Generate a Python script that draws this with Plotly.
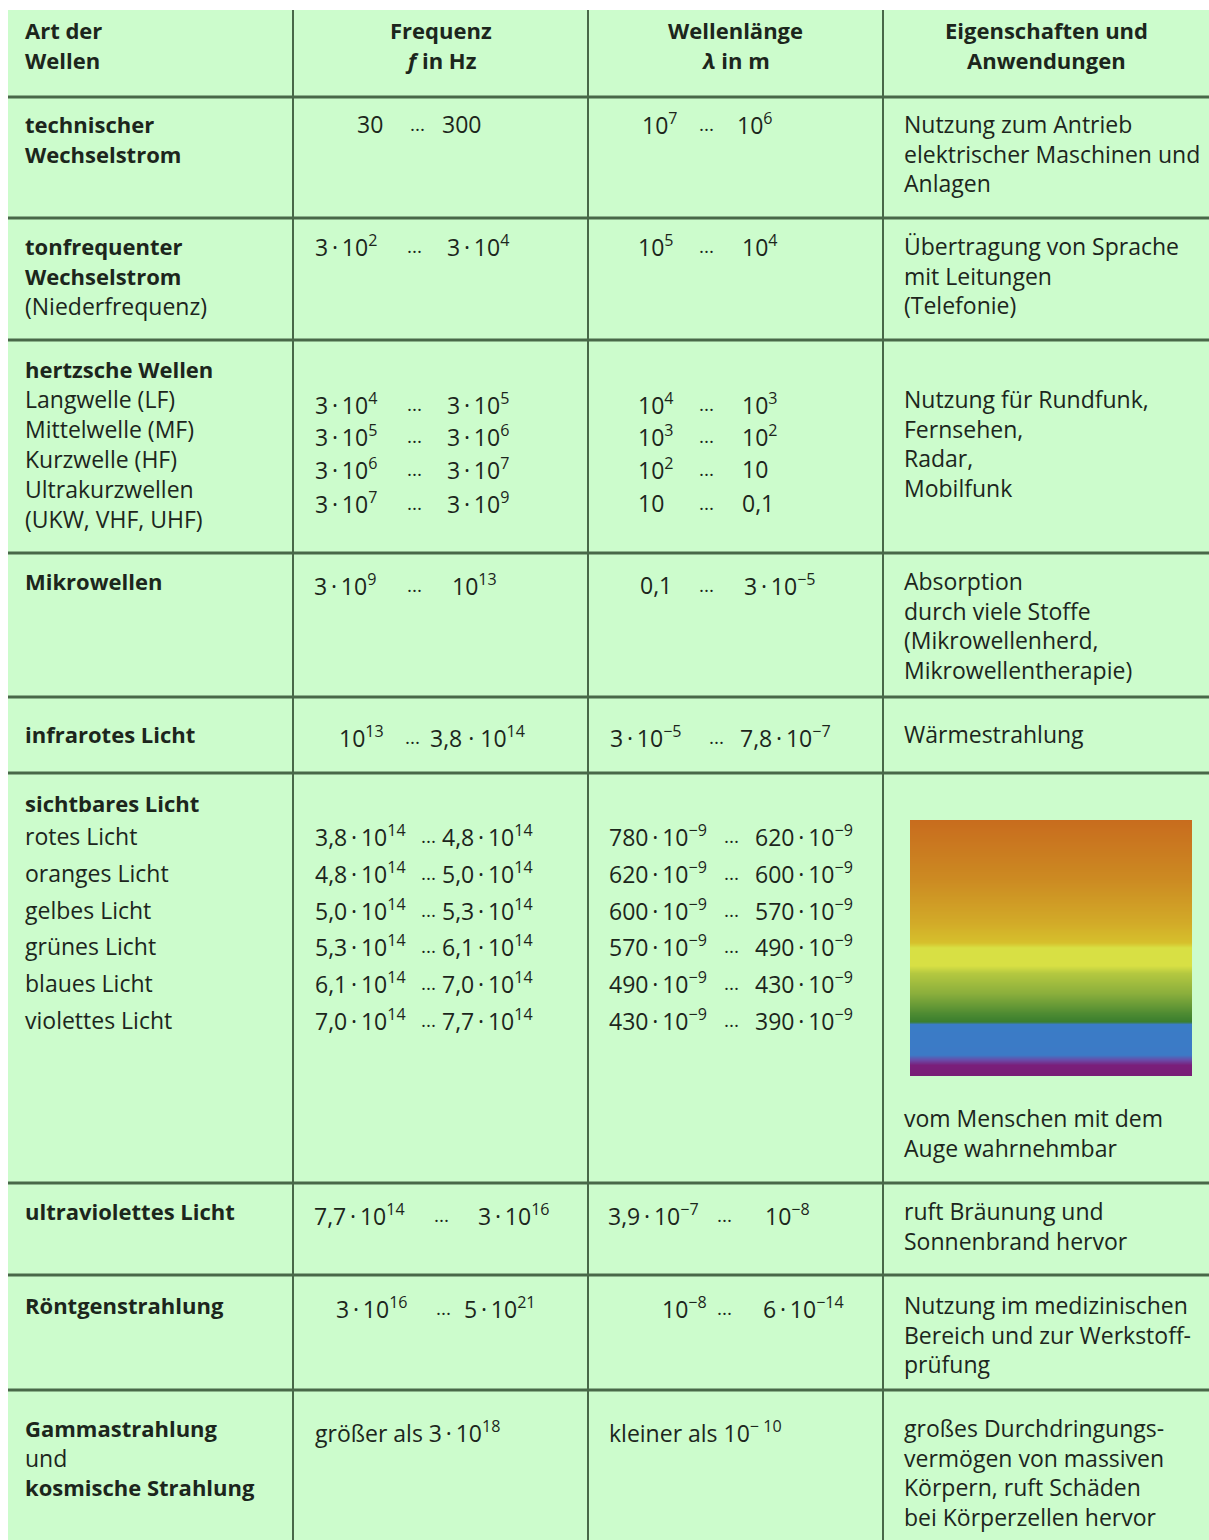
import plotly.graph_objects as go

# ---------------- data ----------------
header_lines = [
    ["Art der", "Wellen"],
    ["Frequenz", "<i>f</i> in Hz"],
    ["Wellenlänge", "<i>λ</i> in m"],
    ["Eigenschaften und", "Anwendungen"],
]

wave_types = [
    ["<b>technischer</b>", "<b>Wechselstrom</b>"],
    ["<b>tonfrequenter</b>", "<b>Wechselstrom</b>", "(Niederfrequenz)"],
    ["<b>hertzsche Wellen</b>", "Langwelle (LF)", "Mittelwelle (MF)", "Kurzwelle (HF)",
     "Ultrakurzwellen", "(UKW, VHF, UHF)"],
    ["<b>Mikrowellen</b>"],
    ["<b>infrarotes Licht</b>"],
    ["<b>sichtbares Licht</b>", "rotes Licht", "oranges Licht", "gelbes Licht",
     "grünes Licht", "blaues Licht", "violettes Licht"],
    ["<b>ultraviolettes Licht</b>"],
    ["<b>Röntgenstrahlung</b>"],
    ["<b>Gammastrahlung</b>", "und", "<b>kosmische Strahlung</b>"],
]

M = "\u2009·\u2009"
frequencies = [
    [("30", "300")],
    [("3" + M + "10<sup>2</sup>", "3" + M + "10<sup>4</sup>")],
    [("3" + M + "10<sup>4</sup>", "3" + M + "10<sup>5</sup>"),
     ("3" + M + "10<sup>5</sup>", "3" + M + "10<sup>6</sup>"),
     ("3" + M + "10<sup>6</sup>", "3" + M + "10<sup>7</sup>"),
     ("3" + M + "10<sup>7</sup>", "3" + M + "10<sup>9</sup>")],
    [("3" + M + "10<sup>9</sup>", "10<sup>13</sup>")],
    [("10<sup>13</sup>", "3,8 · 10<sup>14</sup>")],
    [("3,8" + M + "10<sup>14</sup>", "4,8" + M + "10<sup>14</sup>"),
     ("4,8" + M + "10<sup>14</sup>", "5,0" + M + "10<sup>14</sup>"),
     ("5,0" + M + "10<sup>14</sup>", "5,3" + M + "10<sup>14</sup>"),
     ("5,3" + M + "10<sup>14</sup>", "6,1" + M + "10<sup>14</sup>"),
     ("6,1" + M + "10<sup>14</sup>", "7,0" + M + "10<sup>14</sup>"),
     ("7,0" + M + "10<sup>14</sup>", "7,7" + M + "10<sup>14</sup>")],
    [("7,7" + M + "10<sup>14</sup>", "3" + M + "10<sup>16</sup>")],
    [("3" + M + "10<sup>16</sup>", "5" + M + "10<sup>21</sup>")],
    [("größer als 3" + M + "10<sup>18</sup>", None)],
]

wavelengths = [
    [("10<sup>7</sup>", "10<sup>6</sup>")],
    [("10<sup>5</sup>", "10<sup>4</sup>")],
    [("10<sup>4</sup>", "10<sup>3</sup>"), ("10<sup>3</sup>", "10<sup>2</sup>"),
     ("10<sup>2</sup>", "10"), ("10", "0,1")],
    [("0,1", "3" + M + "10<sup>−5</sup>")],
    [("3" + M + "10<sup>−5</sup>", "7,8" + M + "10<sup>−7</sup>")],
    [("780" + M + "10<sup>−9</sup>", "620" + M + "10<sup>−9</sup>"),
     ("620" + M + "10<sup>−9</sup>", "600" + M + "10<sup>−9</sup>"),
     ("600" + M + "10<sup>−9</sup>", "570" + M + "10<sup>−9</sup>"),
     ("570" + M + "10<sup>−9</sup>", "490" + M + "10<sup>−9</sup>"),
     ("490" + M + "10<sup>−9</sup>", "430" + M + "10<sup>−9</sup>"),
     ("430" + M + "10<sup>−9</sup>", "390" + M + "10<sup>−9</sup>")],
    [("3,9" + M + "10<sup>−7</sup>", "10<sup>−8</sup>")],
    [("10<sup>−8</sup>", "6" + M + "10<sup>−14</sup>")],
    [("kleiner als 10<sup>− 10</sup>", None)],
]

properties = [
    ["Nutzung zum Antrieb", "elektrischer Maschinen und", "Anlagen"],
    ["Übertragung von Sprache", "mit Leitungen", "(Telefonie)"],
    ["Nutzung für Rundfunk,", "Fernsehen,", "Radar,", "Mobilfunk"],
    ["Absorption", "durch viele Stoffe", "(Mikrowellenherd,", "Mikrowellentherapie)"],
    ["Wärmestrahlung"],
    ["vom Menschen mit dem", "Auge wahrnehmbar"],
    ["ruft Bräunung und", "Sonnenbrand hervor"],
    ["Nutzung im medizinischen", "Bereich und zur Werkstoff-", "prüfung"],
    ["großes Durchdringungs-", "vermögen von massiven", "Körpern, ruft Schäden",
     "bei Körperzellen hervor"],
]

# visible spectrum colour bands (top = red end, bottom = violet end)
spectrum_stops = [0.0, 0.23, 0.40, 0.48, 0.50, 0.57, 0.60, 0.68, 0.76, 0.79, 0.80,
                  0.92, 0.94, 0.96, 1.0]
spectrum_colors = ["#c86c1e", "#cc8a22", "#d2aa28", "#d6c02c", "#d8e044", "#d8e044",
                   "#b4c840", "#8aae3c", "#4c8a32", "#3a7e2e", "#3a7cc6",
                   "#3c7ac6", "#6a4aa8", "#7a1e7a", "#781e76"]

# ---------------- layout constants ----------------
W, H = 1209, 1540
BG = "#ccfccc"
LINE = "#486848"
TXT = "#1c261c"
FONT = "Open Sans"
FS_REG = 23
FS_BOLD = 22
FS_NUM = 23

left, top = 8, 10
col_x = [left, 293, 588, 883, W]
row_y = [top, 97, 218, 340, 553, 697, 773, 1183, 1275, 1390, H]

label_first = [124, 246, 369, 581, 734, 803, 1211, 1305, 1428]
label_step = [30, 30, 30, 30, 30, 0, 30, 30, 29.5]
sub_first = {2: 399, 5: 836}
sub_step = {2: 30, 5: 36.8}

num_y = [[124], [246], [404, 436, 469, 503], [585], [737],
         [836, 873, 910, 946, 983, 1020], [1215], [1308], [1432]]
freq_x = [(355, 408, 440), (313, 405, 445), (313, 405, 445), (312, 405, 450),
          (337, 403, 428), (313, 419, 440), (312, 432, 476), (334, 434, 462), (313, 0, 0)]
wave_x = [(640, 697, 735), (636, 697, 740), (636, 697, 740), (638, 697, 742),
          (608, 707, 738), (607, 722, 753), (606, 715, 763), (660, 715, 761), (607, 0, 0)]

prop_first = [124, 246, 399, 581, 734, 1118, 1211, 1305, 1428]
prop_step = 29.6
prop_x = 902
label_x = 23

grad_x = (910, 1192)
grad_y = (820, 1076)

# ---------------- figure ----------------
fig = go.Figure()

# spectrum gradient
n = grad_y[1] - grad_y[0]
cscale = [[s, c] for s, c in zip(spectrum_stops, spectrum_colors)]
fig.add_trace(go.Heatmap(
    x=list(grad_x),
    y=[grad_y[0] + k for k in range(n + 1)],
    z=[[k / (n - 1)] for k in range(n)],
    colorscale=cscale, zmin=0, zmax=1, showscale=False,
    zsmooth=False, hoverinfo="skip",
))

shapes = [dict(type="rect", x0=left, x1=W, y0=top, y1=H, fillcolor=BG,
               line=dict(width=0), layer="below")]
for y in row_y[1:-1]:
    shapes.append(dict(type="line", x0=left, x1=W, y0=y, y1=y,
                       line=dict(color=LINE, width=3)))
for x in col_x[1:-1]:
    shapes.append(dict(type="line", x0=x, x1=x, y0=top, y1=H,
                       line=dict(color=LINE, width=2)))

ann = []


def add(text, x, y, anchor="left", size=FS_REG):
    if text.startswith("<b>"):
        size = FS_BOLD
    ann.append(dict(text=text, x=x, y=y,
                    xref="x", yref="y", xanchor=anchor, yanchor="middle",
                    showarrow=False, font=dict(family=FONT, size=size, color=TXT)))


# header
hdr_y = [30, 60]
for ci, lines in enumerate(header_lines):
    for li, t in enumerate(lines):
        t = "<b>" + t + "</b>"
        if ci == 0:
            add(t, label_x, hdr_y[li], "left")
        else:
            cx = (col_x[ci] + col_x[ci + 1]) / 2
            add(t, cx, hdr_y[li], "center")

# column 1
for ri, lines in enumerate(wave_types):
    for li, t in enumerate(lines):
        if ri in sub_first and li > 0:
            y = sub_first[ri] + (li - 1) * sub_step[ri]
        else:
            y = label_first[ri] + li * label_step[ri]
        add(t, label_x, y)

# columns 2 and 3
for col, pos in ((frequencies, freq_x), (wavelengths, wave_x)):
    for ri, pairs in enumerate(col):
        for si, (lo, hi) in enumerate(pairs):
            y = num_y[ri][si]
            add(lo, pos[ri][0], y, size=FS_NUM)
            if hi is not None:
                add("...", pos[ri][1], y, size=FS_NUM - 4)
                add(hi, pos[ri][2], y, size=FS_NUM)

# column 4
for ri, lines in enumerate(properties):
    for li, t in enumerate(lines):
        add(t, prop_x, prop_first[ri] + li * prop_step)

fig.update_layout(
    width=W, height=H, margin=dict(l=0, r=0, t=0, b=0),
    paper_bgcolor="white", plot_bgcolor="white",
    xaxis=dict(range=[0, W], visible=False, fixedrange=True),
    yaxis=dict(range=[H, 0], visible=False, fixedrange=True),
    shapes=shapes, annotations=ann, showlegend=False,
)

fig.write_html(
    "out.html",
    config={"displayModeBar": False},
    post_script="document.body.style.margin='0px';document.body.style.overflow='hidden';",
)
